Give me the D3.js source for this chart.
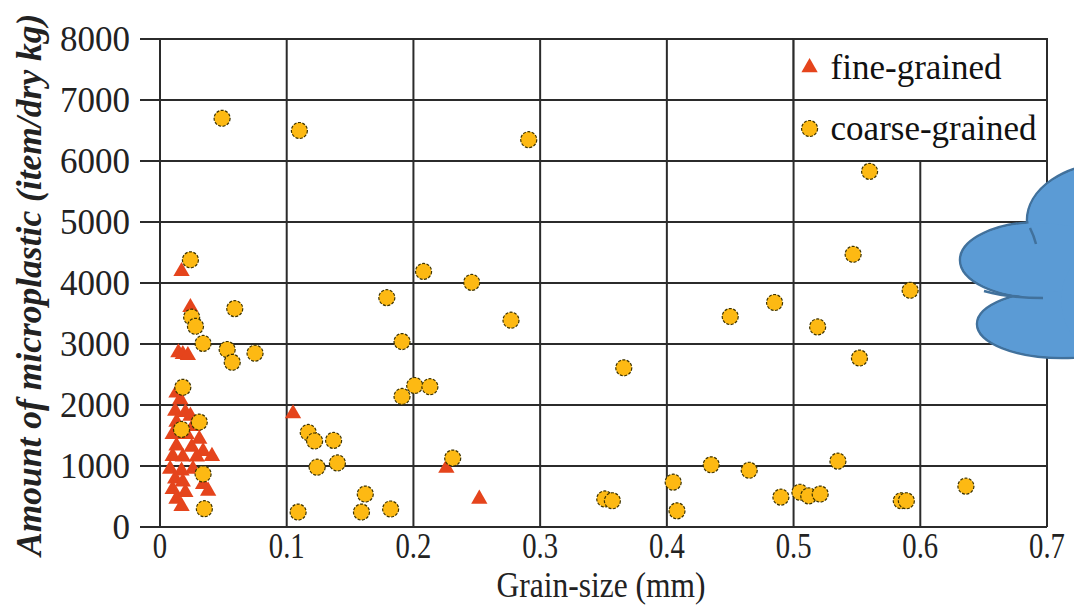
<!DOCTYPE html>
<html>
<head>
<meta charset="utf-8">
<script src="https://cdn.jsdelivr.net/npm/d3@7"></script>
<style>
  body { margin: 0; background: #fff; }
  svg { display: block; }
</style>
</head>
<body>
<div id="chart"></div>
<script>
// grain size (mm), amount (item/dry kg)
const fineGrained = [
    [0.017, 4190], [0.024, 3600], [0.0145, 2860], [0.018, 2830], [0.022, 2815],
    [0.013, 2200], [0.016, 2090], [0.012, 1900], [0.020, 1880], [0.024, 1820],
    [0.013, 1720], [0.026, 1650], [0.010, 1520], [0.021, 1520], [0.031, 1440],
    [0.013, 1330], [0.025, 1310], [0.034, 1240], [0.010, 1160], [0.018, 1150],
    [0.041, 1160], [0.029, 1150], [0.008, 950], [0.017, 920], [0.026, 950],
    [0.012, 790], [0.018, 740], [0.034, 700], [0.010, 620], [0.020, 570],
    [0.038, 590], [0.013, 460], [0.017, 340],
    [0.105, 1860], [0.226, 965], [0.252, 460]
];

const coarseGrained = [
    [0.049, 6700], [0.110, 6500], [0.291, 6350], [0.560, 5830],
    [0.024, 4380], [0.025, 3440], [0.028, 3290], [0.059, 3580], [0.034, 3010],
    [0.053, 2910], [0.057, 2700], [0.075, 2850], [0.018, 2290], [0.031, 1720],
    [0.017, 1600], [0.034, 870], [0.035, 300],
    [0.191, 3040], [0.201, 2320], [0.213, 2300], [0.191, 2140], [0.366, 2610],
    [0.117, 1550], [0.122, 1410], [0.137, 1420], [0.124, 980], [0.140, 1050],
    [0.231, 1130], [0.109, 245], [0.162, 540], [0.159, 245], [0.182, 295],
    [0.351, 460], [0.357, 430], [0.405, 735], [0.408, 265],
    [0.179, 3760], [0.208, 4190], [0.246, 4010], [0.277, 3390],
    [0.592, 3880], [0.485, 3680], [0.450, 3450], [0.519, 3280], [0.552, 2770],
    [0.547, 4470], [0.435, 1020], [0.465, 930], [0.535, 1080], [0.490, 490],
    [0.505, 570], [0.512, 510], [0.521, 540], [0.585, 430], [0.589, 430],
    [0.636, 670]
];

const xTicks = [0, 0.1, 0.2, 0.3, 0.4, 0.5, 0.6, 0.7];
const yTicks = [0, 1000, 2000, 3000, 4000, 5000, 6000, 7000, 8000];
const seriesNames = ["fine-grained", "coarse-grained"];

const width = 1074, height = 608;
const margin = { top: 39, right: 27, bottom: 80, left: 160 };
const serif = "'Liberation Serif', 'Times New Roman', serif";
const gridColor = "#2b2b2b";
const fineColor = "#e5441c";
const coarseColor = "#fdb913";

const svg = d3.select("#chart").append("svg")
    .attr("width", width)
    .attr("height", height)
    .style("background-color", "white");

const x = d3.scaleLinear().domain([0, 0.7]).range([margin.left, width - margin.right]);
const y = d3.scaleLinear().domain([0, 8000]).range([height - margin.bottom - 1, margin.top]);

// grid
const grid = svg.append("g").attr("class", "grid");
grid.selectAll(".hline")
    .data(yTicks)
    .enter()
    .append("line")
    .attr("x1", x(0) - 20)
    .attr("x2", x(0.7))
    .attr("y1", d => y(d))
    .attr("y2", d => y(d))
    .attr("stroke", gridColor)
    .attr("stroke-width", 2);

grid.selectAll(".vline")
    .data(xTicks)
    .enter()
    .append("line")
    .attr("x1", d => x(d))
    .attr("x2", d => x(d))
    .attr("y1", y(0))
    .attr("y2", y(8000))
    .attr("stroke", gridColor)
    .attr("stroke-width", 2);

// tick labels
svg.append("g").selectAll("text")
    .data(yTicks)
    .enter()
    .append("text")
    .attr("x", x(0) - 30)
    .attr("y", d => y(d))
    .attr("dy", "0.35em")
    .attr("text-anchor", "end")
    .attr("font-family", serif)
    .attr("font-size", 35)
    .attr("fill", "#222")
    .text(d => d);

svg.append("g").selectAll("text")
    .data(xTicks)
    .enter()
    .append("text")
    .attr("transform", d => "translate(" + x(d) + "," + (y(0) + 31) + ") scale(0.82,1)")
    .attr("text-anchor", "middle")
    .attr("font-family", serif)
    .attr("font-size", 35)
    .attr("fill", "#222")
    .text(d => d === 0 ? "0" : d3.format(".1f")(d));

// axis titles
svg.append("text")
    .attr("transform", "translate(" + 601 + "," + 597 + ") scale(0.9,1)")
    .attr("text-anchor", "middle")
    .attr("font-family", serif)
    .attr("font-size", 35)
    .attr("fill", "#222")
    .text("Grain-size (mm)");

svg.append("text")
    .attr("transform", "translate(41,556) rotate(-90)")
    .attr("text-anchor", "start")
    .attr("font-family", serif)
    .attr("font-style", "italic")
    .attr("font-weight", "bold")
    .attr("font-size", 35.5)
    .attr("fill", "#222")
    .text("Amount of microplastic  (item/dry kg)");

// points
const triangle = d3.symbol().type(d3.symbolTriangle).size(115);

svg.append("g").attr("class", "fine")
    .selectAll("path")
    .data(fineGrained)
    .enter()
    .append("path")
    .attr("d", triangle)
    .attr("transform", d => "translate(" + x(d[0]) + "," + y(d[1]) + ")")
    .attr("fill", fineColor);

svg.append("g").attr("class", "coarse")
    .selectAll("circle")
    .data(coarseGrained)
    .enter()
    .append("circle")
    .attr("cx", d => x(d[0]))
    .attr("cy", d => y(d[1]))
    .attr("r", 8)
    .attr("fill", coarseColor)
    .attr("stroke", "#3d3300")
    .attr("stroke-width", 1.2)
    .attr("stroke-dasharray", "3,1.5");

// legend as a two-row box in the top right cells
const legend = svg.append("g").attr("class", "legend");
legend.append("rect")
    .attr("x", x(0.5))
    .attr("y", y(8000))
    .attr("width", x(0.7) - x(0.5))
    .attr("height", y(6000) - y(8000))
    .attr("fill", "white")
    .attr("stroke", gridColor)
    .attr("stroke-width", 2);
legend.append("line")
    .attr("x1", x(0.5))
    .attr("x2", x(0.7))
    .attr("y1", y(7000))
    .attr("y2", y(7000))
    .attr("stroke", gridColor)
    .attr("stroke-width", 2);

const rowY = [y(7500) - 2, y(6500) - 2];
legend.append("path")
    .attr("d", triangle)
    .attr("transform", "translate(" + (x(0.5) + 16) + "," + rowY[0] + ")")
    .attr("fill", fineColor);
legend.append("circle")
    .attr("cx", x(0.5) + 16)
    .attr("cy", rowY[1])
    .attr("r", 8)
    .attr("fill", coarseColor)
    .attr("stroke", "#3d3300")
    .attr("stroke-width", 1.2)
    .attr("stroke-dasharray", "3,1.5");
legend.selectAll(".ltext")
    .data(seriesNames)
    .enter()
    .append("text")
    .attr("x", x(0.5) + 37)
    .attr("y", (d, i) => rowY[i])
    .attr("dy", "0.32em")
    .attr("font-family", serif)
    .attr("font-size", 35)
    .attr("fill", "#111")
    .text(d => d);

// blue cloud callout on the right edge: outline pass, then fill pass
const lobes = [
    { cx: 1112, cy: 220, rx: 85, ry: 57 },
    { cx: 1040, cy: 260, rx: 80, ry: 38 },
    { cx: 1062, cy: 324, rx: 85, ry: 34 },
    { cx: 1120, cy: 300, rx: 60, ry: 62 }
];
const cloud = svg.append("g").attr("class", "cloud");
cloud.selectAll(".outline")
    .data(lobes)
    .enter()
    .append("ellipse")
    .attr("cx", d => d.cx).attr("cy", d => d.cy)
    .attr("rx", d => d.rx).attr("ry", d => d.ry)
    .attr("fill", "#5b9bd5")
    .attr("stroke", "#41719c")
    .attr("stroke-width", 2.5);
cloud.selectAll(".fill")
    .data(lobes)
    .enter()
    .append("ellipse")
    .attr("cx", d => d.cx).attr("cy", d => d.cy)
    .attr("rx", d => d.rx - 1.3).attr("ry", d => d.ry - 1.3)
    .attr("fill", "#5b9bd5");
// inner creases of the cloud
cloud.append("path")
    .attr("d", "M1030,228 Q1034,236 1036,244 M984,291 Q1010,298 1043,298")
    .attr("fill", "none")
    .attr("stroke", "#41719c")
    .attr("stroke-width", 2.5);
</script>
</body>
</html>
